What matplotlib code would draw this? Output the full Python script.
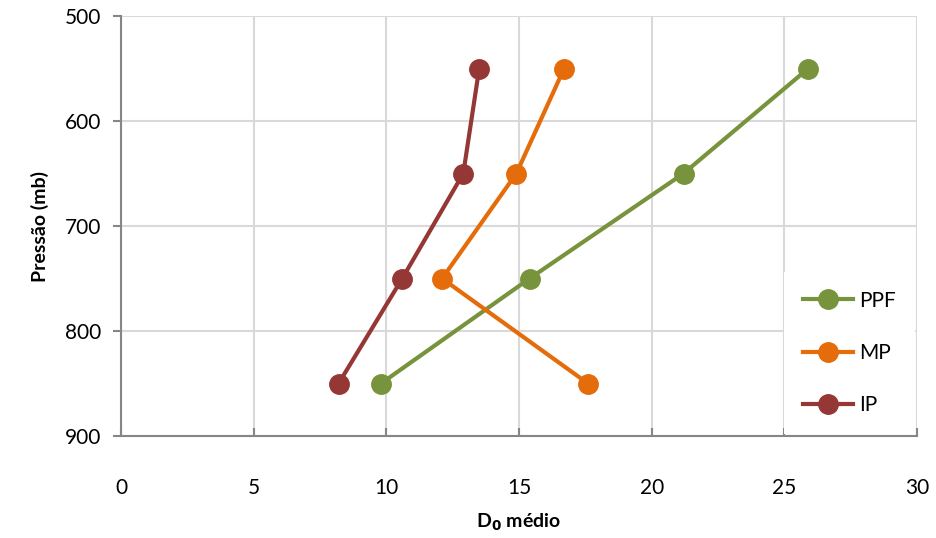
import matplotlib.pyplot as plt

plt.rcParams['font.family'] = ['Lato', 'DejaVu Sans']

pressao = [550, 650, 750, 850]
ppf = [25.9, 21.2, 15.4, 9.8]
mp = [16.7, 14.9, 12.1, 17.6]
ip = [13.5, 12.9, 10.6, 8.2]

series = [('PPF', ppf, '#77933C'), ('MP', mp, '#E46C0A'), ('IP', ip, '#953735')]

fig = plt.figure(figsize=(9.36, 5.38), dpi=100)
ax = fig.add_axes([121/936, 1 - 436/538, (917 - 121)/936, (436 - 16)/538])

for nome, vals, cor in series:
    ax.plot(vals, pressao, '-o', color=cor, lw=3, ms=14, label=nome, clip_on=False, zorder=3)

ax.set_xlim(0, 30)
ax.set_ylim(900, 500)
ax.set_xticks(range(0, 31, 5))
ax.set_yticks(range(500, 901, 100))
ax.grid(True, color='#D9D9D9', lw=1.5)
ax.set_axisbelow(True)

for s in ['top', 'right']:
    ax.spines[s].set_visible(False)
for s in ['left', 'bottom']:
    ax.spines[s].set_color('#868686')
    ax.spines[s].set_linewidth(1.5)

ax.tick_params(axis='x', direction='in', length=6, width=1.5, color='#868686',
               labelsize=15, pad=30)
ax.tick_params(axis='y', direction='out', length=6, width=1.5, color='#868686',
               labelsize=15, pad=8)

ax.set_xlabel(r'D$_\mathbf{0}$ médio', fontsize=14, fontweight='bold', labelpad=10)
ax.set_ylabel('Pressão (mb)', fontsize=14, fontweight='bold', labelpad=12)

leg = ax.legend(loc='lower right', bbox_to_anchor=(1.0, 0.0), borderaxespad=0.1,
                frameon=True, fancybox=False, edgecolor='none', facecolor='white',
                framealpha=1, fontsize=15, handlelength=2.4, labelspacing=1.55,
                handletextpad=0.3, borderpad=0.9)
leg.set_zorder(5)

fig.savefig('out.png', dpi=100)
